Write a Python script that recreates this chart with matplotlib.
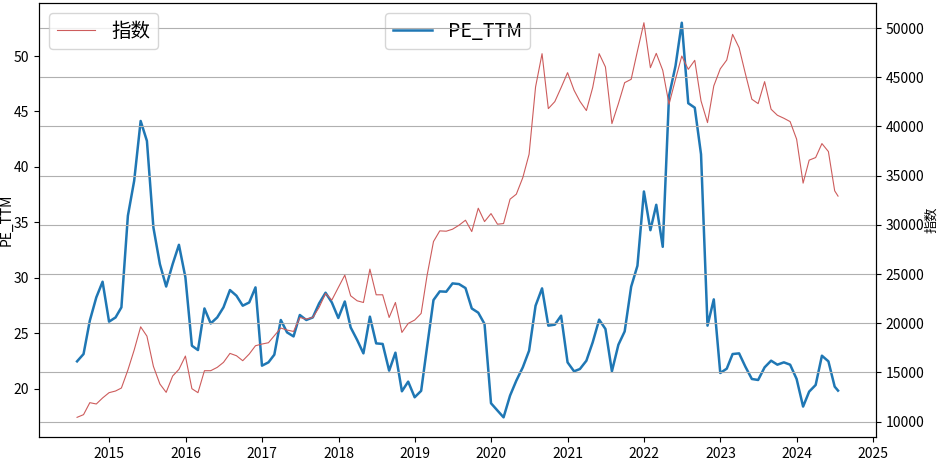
import matplotlib
matplotlib.use("Agg")
import matplotlib.pyplot as plt
import matplotlib.dates as mdates
import pandas as pd

plt.rcParams['font.family'] = ['Noto Sans CJK SC', 'DejaVu Sans']
plt.rcParams['axes.unicode_minus'] = False

# monthly points, last one is a mid-month reading
dates = list(pd.date_range("2014-07-31", "2024-06-30", freq=pd.offsets.MonthEnd())) + [pd.Timestamp("2024-07-16")]

pe_ttm = [
    22.46, 23.12, 26.13, 28.23, 29.64, 26.04, 26.42, 27.33, 35.59, 38.74,
    44.14, 42.34, 34.53, 31.23, 29.21, 31.23, 32.97, 30.03, 23.87, 23.48,
    27.23, 25.88, 26.42, 27.33, 28.89, 28.38, 27.48, 27.77, 29.13, 22.07,
    22.37, 23.06, 26.19, 25.07, 24.71, 26.64, 26.19, 26.42, 27.68, 28.65,
    27.77, 26.37, 27.86, 25.52, 24.39, 23.18, 26.49, 24.08, 24.03, 21.62,
    23.24, 19.76, 20.63, 19.22, 19.80, 23.72, 27.99, 28.77, 28.74, 29.49,
    29.43, 29.07, 27.23, 26.85, 25.83, 18.68, 18.02, 17.41, 19.37, 20.72,
    21.92, 23.42, 27.48, 29.04, 25.68, 25.77, 26.58, 22.37, 21.56, 21.77,
    22.52, 24.17, 26.22, 25.38, 21.56, 23.96, 25.16, 29.19, 31.08, 37.78,
    34.29, 36.58, 32.79, 46.40, 49.10, 53.00, 45.74, 45.34, 41.14, 25.68,
    28.05, 21.41, 21.80, 23.12, 23.18, 21.98, 20.87, 20.78, 21.92, 22.52,
    22.16, 22.37, 22.16, 20.87, 18.38, 19.73, 20.33, 22.97, 22.46, 20.18,
    19.82,
]

index_values = [
    10437, 10711, 11929, 11794, 12406, 12944, 13113, 13418, 15245, 17275,
    19640, 18690, 15617, 13826, 12977, 14636, 15313, 16666, 13350, 12944,
    15178, 15178, 15516, 16024, 16937, 16700, 16193, 16870, 17716, 17888,
    18020, 18731, 19513, 19310, 19168, 20589, 20426, 20589, 21604, 23025,
    22355, 23634, 24893, 22792, 22284, 22112, 25503, 22893, 22893, 20589,
    22112, 19066, 19980, 20325, 21000, 24822, 28305, 29391, 29357, 29560,
    29966, 30474, 29320, 31695, 30335, 31147, 30067, 30135, 32612, 33120,
    34805, 37181, 44020, 47401, 41817, 42528, 43949, 45472, 43685, 42560,
    41620, 43949, 47401, 46050, 40294, 42325, 44457, 44797, 47670, 50546,
    45980, 47435, 45709, 42256, 44797, 47162, 45810, 46726, 42599, 40396,
    44122, 45860, 46756, 49365, 48010, 45371, 42772, 42325, 44558, 41753,
    41143, 40838, 40497, 38711, 34244, 36579, 36843, 38264, 37452, 33462,
    32924,
]

fig, ax1 = plt.subplots(figsize=(9.4, 4.63), dpi=100)
fig.subplots_adjust(left=0.0415, right=0.932, bottom=0.056, top=0.9935)

ax1.plot(dates, pe_ttm, color='tab:blue', linewidth=1.8, label='PE_TTM')
ax1.set_ylabel('PE_TTM', fontsize=10)
ax1.yaxis.set_label_coords(-0.03, 0.5)
ax1.tick_params(labelsize=10)

ax2 = ax1.twinx()
ax2.plot(dates, index_values, color='indianred', linewidth=0.8, label='指数')
ax2.set_ylabel('指数', fontsize=9.5)
ax2.yaxis.set_label_coords(1.059, 0.5)
ax2.tick_params(labelsize=10)
ax2.grid(axis='y', color='#b0b0b0', linewidth=0.8)

ax1.xaxis.set_major_locator(mdates.YearLocator())
ax1.xaxis.set_major_formatter(mdates.DateFormatter('%Y'))

ax2.legend(loc='upper left', fontsize=14)
ax1.legend(loc='upper center', fontsize=14)

plt.savefig('out.png')
